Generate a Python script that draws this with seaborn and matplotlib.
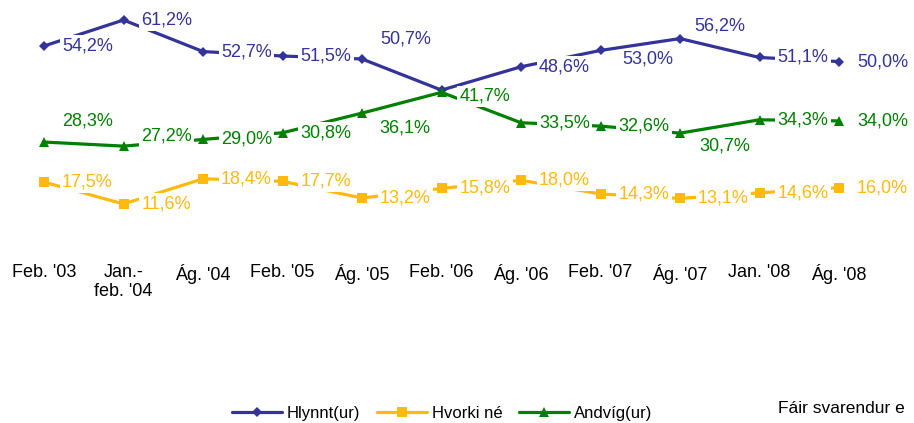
import matplotlib
import matplotlib.pyplot as plt
import pandas as pd
import seaborn as sns
from matplotlib import font_manager

matplotlib.use("Agg")

periods = ["Feb. '03", "Jan.-\nfeb. '04", "Ág. '04", "Feb. '05", "Ág. '05", "Feb. '06",
           "Ág. '06", "Feb. '07", "Ág. '07", "Jan. '08", "Ág. '08"]
hlynnt = [54.2, 61.2, 52.7, 51.5, 50.7, 42.3, 48.6, 53.0, 56.2, 51.1, 50.0]
hvorki = [17.5, 11.6, 18.4, 17.7, 13.2, 15.8, 18.0, 14.3, 13.1, 14.6, 16.0]
andvig = [28.3, 27.2, 29.0, 30.8, 36.1, 41.7, 33.5, 32.6, 30.7, 34.3, 34.0]
series_names = ["Hlynnt(ur)", "Hvorki né", "Andvíg(ur)"]
note_text = "Fáir svarendur e"

sns.set_style("white")
names = {f.name for f in font_manager.fontManager.ttflist}
base = "Liberation Sans Narrow" if "Liberation Sans Narrow" in names else "Liberation Sans"
plt.rcParams["font.family"] = [base, "DejaVu Sans"]

colors = {"Hlynnt(ur)": "#333399", "Hvorki né": "#FFB90F", "Andvíg(ur)": "#008000"}
markers = {"Hlynnt(ur)": "D", "Hvorki né": "s", "Andvíg(ur)": "^"}
msize = {"Hlynnt(ur)": 5, "Hvorki né": 7, "Andvíg(ur)": 7}

df = pd.DataFrame({
    "period": periods * 3,
    "value": hlynnt + hvorki + andvig,
    "series": [n for n in series_names for _ in periods],
})

fig = plt.figure(figsize=(9.14, 4.23), dpi=100)
ax = fig.add_axes([44 / 914, 176 / 423, (839 - 44) / 914, 247 / 423])

for name in series_names:
    sub = df[df["series"] == name]
    sns.lineplot(data=sub, x="period", y="value", color=colors[name], marker=markers[name],
                 markersize=msize[name], markeredgewidth=0, linewidth=2.3, label=name,
                 ax=ax, sort=False, clip_on=False)

# label offsets in pixels (dx, dy); default is to the right of the point
offsets = {
    ("Hlynnt(ur)", 4): (18, 20),
    ("Hlynnt(ur)", 7): (22, -9),
    ("Hlynnt(ur)", 8): (14, 13),
    ("Andvíg(ur)", 0): (18, 21),
    ("Andvíg(ur)", 1): (18, 10),
    ("Andvíg(ur)", 4): (17, -15),
    ("Andvíg(ur)", 5): (18, -4),
    ("Andvíg(ur)", 8): (19, -13),
}
for name, vals in zip(series_names, [hlynnt, hvorki, andvig]):
    for i, v in enumerate(vals):
        if name == "Hlynnt(ur)" and i == 5:
            continue
        dx, dy = offsets.get((name, i), (18, 0))
        ax.annotate(f"{v:.1f}%".replace(".", ","), (i, v), xytext=(dx * 0.72, dy * 0.72),
                    textcoords="offset points", ha="left", va="center", fontsize=13,
                    color=colors[name], zorder=5, annotation_clip=False,
                    bbox=dict(facecolor="white", edgecolor="none", pad=1.5))

ax.set_xlim(0, 10)
ax.set_ylim(0, 66.6)
ax.set_xlabel("")
ax.set_ylabel("")
ax.set_yticks([])
ax.tick_params(axis="x", length=0, pad=12, labelsize=13, labelcolor="black")
for s in ax.spines.values():
    s.set_visible(False)

leg = ax.legend(loc="center", bbox_to_anchor=(442 / 914, 10 / 423), bbox_transform=fig.transFigure,
                ncol=3, frameon=False, fontsize=12, handlelength=3.0, handletextpad=0.3,
                columnspacing=1.0)
for t in leg.get_texts():
    t.set_color("black")
fig.text(778 / 914, 15 / 423, note_text, fontsize=12.5, va="center", ha="left", color="black")

fig.savefig("out.png", dpi=100)
plt.close(fig)
